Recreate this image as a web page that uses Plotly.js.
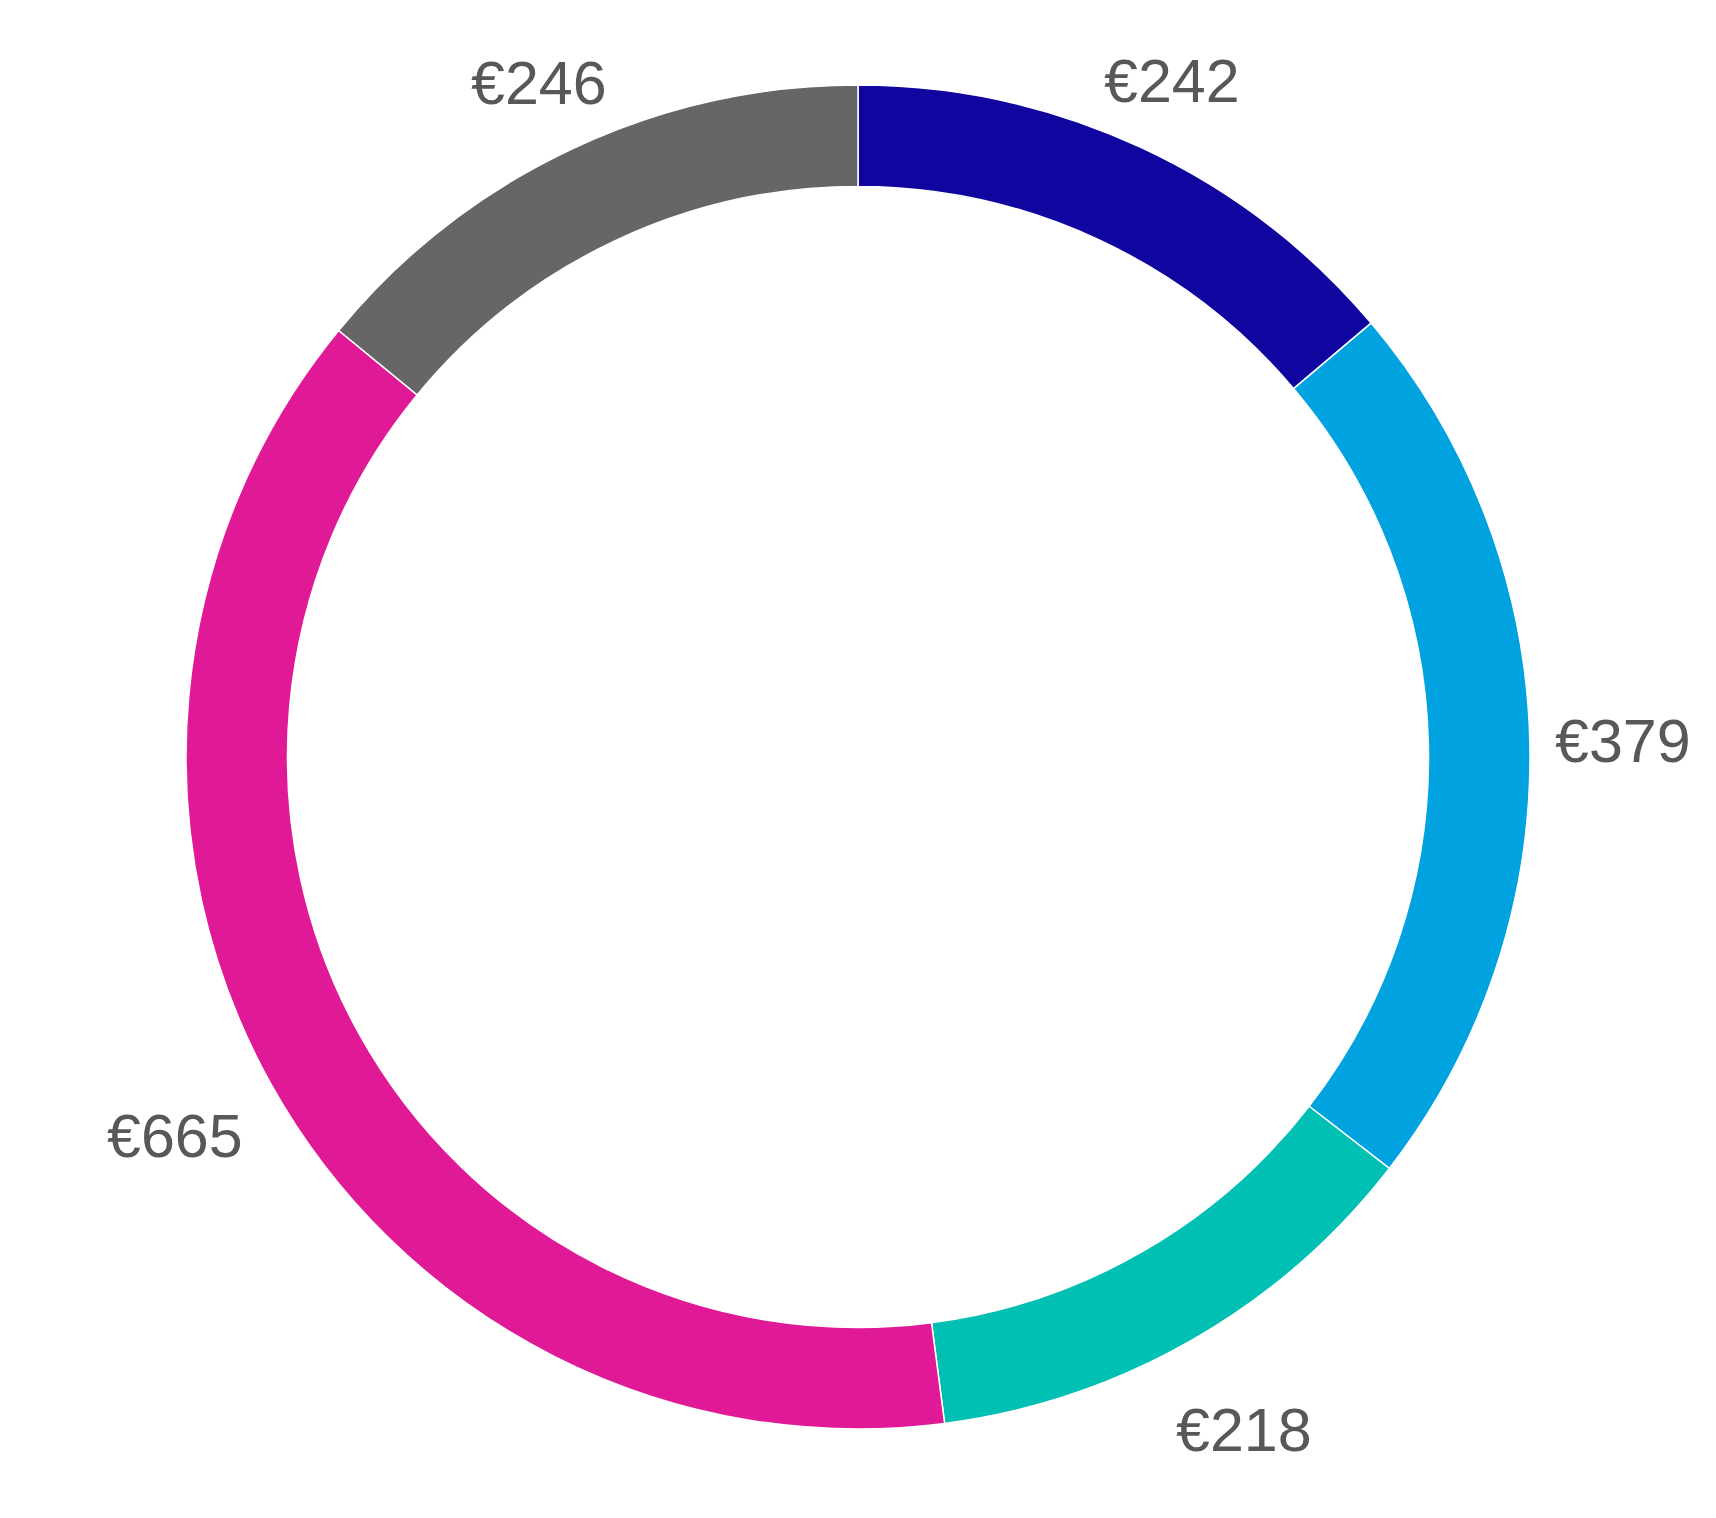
<!DOCTYPE html>
<html>
<head>
<meta charset="utf-8">
<script src="https://cdn.plot.ly/plotly-3.0.1.min.js"></script>
<style>html,body{margin:0;padding:0;background:#fff;}#chart{width:1716px;height:1518px;}</style>
</head>
<body>
<div id="chart"></div>
<script>
const categories = ["A", "B", "C", "D", "E"];
const values = [242, 379, 218, 665, 246];
const labels = ["€242", "€379", "€218", "€665", "€246"];
const colors = ["#10059f", "#00a2e0", "#00bfb3", "#e01a96", "#666666"];

const W = 1716, H = 1518;
const margin = {l: 0, r: 0, t: 85, b: 89};
const fontSize = 61;
const plotW = W - margin.l - margin.r;
const plotH = H - margin.t - margin.b;
const R = Math.min(plotW, plotH) / 2;          // pie radius in px
const gap = 25;                                   // px between ring and label box
const lowerExtra = 30;                            // extra offset for labels below the centre

// label annotations placed at the middle angle of each slice, computed from the data
const total = values.reduce((a, b) => a + b, 0);
let cum = 0;
const annotations = values.map((v, i) => {
  const mid = (cum + v / 2) / total * 2 * Math.PI;  // clockwise from top
  cum += v;
  const s = Math.sin(mid), c = Math.cos(mid);
  const halfW = labels[i].length * 0.556 * fontSize / 2;
  const halfH = 0.36 * fontSize + (c < 0 ? lowerExtra : 0);
  const d = R + gap + halfW * Math.abs(s) + halfH * Math.abs(c);
  return {
    x: 0.5 + d * s / plotW,
    y: 0.5 + d * c / plotH,
    xref: "paper", yref: "paper",
    xanchor: "center", yanchor: "middle",
    text: labels[i],
    showarrow: false,
    font: {family: "Liberation Sans, Arial, sans-serif", size: fontSize, color: "#58585a"}
  };
});

Plotly.newPlot("chart", [{
  type: "pie",
  labels: categories,
  values: values,
  textinfo: "none",
  hole: 0.849,
  sort: false,
  direction: "clockwise",
  rotation: 0,
  marker: {colors: colors, line: {color: "#ffffff", width: 1.5}},
  hoverinfo: "none"
}], {
  width: W,
  height: H,
  margin: margin,
  showlegend: false,
  paper_bgcolor: "#ffffff",
  annotations: annotations
}, {staticPlot: true});
</script>
</body>
</html>
